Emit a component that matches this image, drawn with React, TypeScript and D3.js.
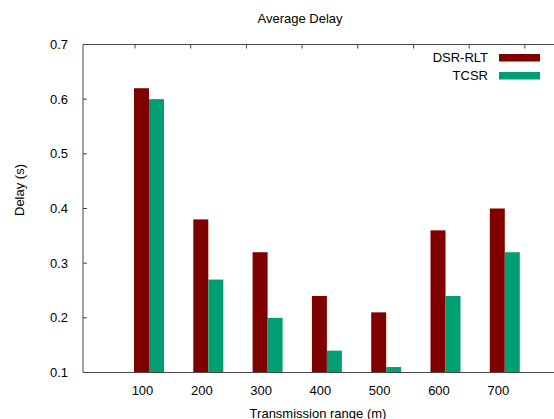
import React from "react";
import * as d3 from "d3";

const categories = ["100", "200", "300", "400", "500", "600", "700"];
const dsrRlt = [0.62, 0.38, 0.32, 0.24, 0.21, 0.36, 0.40];
const tcsr = [0.60, 0.27, 0.20, 0.14, 0.11, 0.24, 0.32];
const yTicks = [0.1, 0.2, 0.3, 0.4, 0.5, 0.6, 0.7];
const topTicks = [0, 1, 2, 3, 4, 5, 6, 7];
const seriesNames = ["DSR-RLT", "TCSR"];
const colors = ["#800000", "#009e73"];

export default function App() {
  const W = 554, H = 419;
  const left = 83, top = 44.5, bottom = 372.5, right = 560;
  const x = d3.scaleLinear().domain([0, 1]).range([149, 208.3]);
  const x2 = d3.scaleLinear().domain([0, 1]).range([135, 190.7]);
  const y = d3.scaleLinear().domain([0.1, 0.7]).range([bottom, top]);
  const bw = 15;
  const font = "Liberation Sans, Arial, sans-serif";
  const axisColor = "#444";
  return (
    <svg width={W} height={H} style={{ position: "absolute", left: 0, top: 0 }} fontFamily={font}>
      <rect x={0} y={0} width={W} height={H} fill="#fff" />
      <text x={300} y={23} fontSize={13} textAnchor="middle" fill="#000">Average Delay</text>
      {categories.map((c, i) => (
        <g key={c}>
          <rect x={x(i) - bw} y={y(dsrRlt[i])} width={bw} height={bottom - y(dsrRlt[i])} fill={colors[0]} />
          <rect x={x(i)} y={y(tcsr[i])} width={bw} height={bottom - y(tcsr[i])} fill={colors[1]} />
          <text x={x(i) - 6.5} y={395} fontSize={13} textAnchor="middle" fill="#000">{c}</text>
        </g>
      ))}
      {yTicks.map((t) => (
        <g key={t}>
          <line x1={left} x2={left + 4} y1={y(t)} y2={y(t)} stroke={axisColor} />
          <text x={68} y={y(t) + 4.5} fontSize={13} textAnchor="end" fill="#000">{t.toFixed(1)}</text>
        </g>
      ))}
      {topTicks.map((t) => (
        <line key={t} x1={x2(t)} x2={x2(t)} y1={top} y2={top + 4} stroke={axisColor} />
      ))}
      <path d={`M${right},${top}H${left}V${bottom}H${right}`} fill="none" stroke={axisColor} strokeWidth={1} />
      {seriesNames.map((s, i) => (
        <g key={s}>
          <text x={488} y={57 + i * 18 + 4.5} fontSize={13} textAnchor="end" fill="#000">{s}</text>
          <rect x={499} y={54 + i * 18} width={41} height={7.5} fill={colors[i]} />
        </g>
      ))}
      <text transform={`translate(24,190) rotate(-90)`} fontSize={13} textAnchor="middle" fill="#000">Delay (s)</text>
      <text x={318} y={418} fontSize={13} textAnchor="middle" fill="#000">Transmission range (m)</text>
    </svg>
  );
}
